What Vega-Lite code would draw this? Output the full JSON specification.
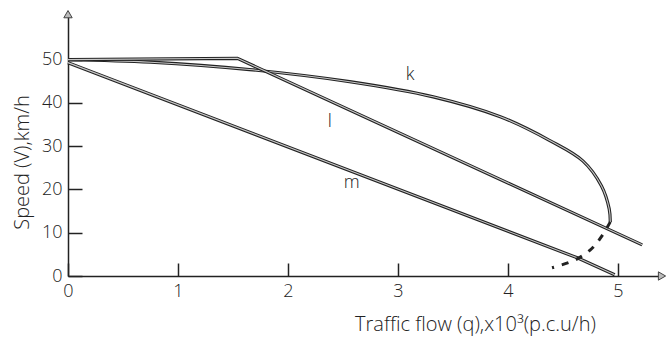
{
  "$schema": "https://vega.github.io/schema/vega-lite/v6.json",
  "width": 594,
  "height": 264,
  "padding": {"left": 68, "top": 12, "right": 5, "bottom": 61},
  "autosize": {"type": "none"},
  "background": "white",
  "config": {
    "view": {"stroke": null},
    "font": "Open Sans",
    "axis": {"grid": false}
  },
  "datasets": {
    "curves": [
      {"series": "k", "i": 0, "q": 0, "v": 50},
      {"series": "k", "i": 1, "q": 0.75, "v": 49.4},
      {"series": "k", "i": 2, "q": 1.65, "v": 47.7},
      {"series": "k", "i": 3, "q": 2.56, "v": 44.9},
      {"series": "k", "i": 4, "q": 3.32, "v": 41.4},
      {"series": "k", "i": 5, "q": 3.93, "v": 36.8},
      {"series": "k", "i": 6, "q": 4.38, "v": 31.3},
      {"series": "k", "i": 7, "q": 4.68, "v": 26.6},
      {"series": "k", "i": 8, "q": 4.85, "v": 20.8},
      {"series": "k", "i": 9, "q": 4.92, "v": 15.5},
      {"series": "k", "i": 10, "q": 4.93, "v": 12.5},
      {"series": "k2", "i": 0, "q": 4.93, "v": 12.5},
      {"series": "k2", "i": 1, "q": 4.86, "v": 9.5},
      {"series": "k2", "i": 2, "q": 4.76, "v": 6.3},
      {"series": "k2", "i": 3, "q": 4.61, "v": 3.7},
      {"series": "k2", "i": 4, "q": 4.4, "v": 1.9},
      {"series": "l", "i": 0, "q": 0, "v": 50},
      {"series": "l", "i": 1, "q": 1.54, "v": 50.3},
      {"series": "l", "i": 2, "q": 5.22, "v": 7.2},
      {"series": "m", "i": 0, "q": 0, "v": 49.3},
      {"series": "m", "i": 1, "q": 4.63, "v": 4.2},
      {"series": "m", "i": 2, "q": 4.97, "v": 0.3}
    ],
    "labels": [
      {"q": 3.11, "v": 46.5, "name": "k"},
      {"q": 2.38, "v": 35.6, "name": "l"},
      {"q": 2.58, "v": 21.5, "name": "m"}
    ],
    "arrows": [
      {"q": 0, "v": 60.5, "shape": "triangle-up"},
      {"q": 5.4, "v": 0, "shape": "triangle-right"}
    ]
  },
  "encoding": {
    "x": {
      "field": "q", "type": "quantitative",
      "scale": {"domain": [0, 5.4], "nice": false, "zero": false},
      "axis": {
        "values": [0, 1, 2, 3, 4, 5],
        "format": "d",
        "title": "Traffic flow (q),x10³(p.c.u/h)",
        "titleFont": "Open Sans", "titleFontWeight": 300, "titleFontSize": 20, "titleColor": "#222",
        "titleAnchor": "middle", "titleX": 407, "titleY": 54, "titleBaseline": "alphabetic",
        "labelFont": "Open Sans", "labelFontWeight": 300, "labelFontSize": 18, "labelColor": "#222",
        "labelPadding": 19, "labelFlush": false,
        "domainColor": "#222", "domainWidth": 1.5,
        "tickColor": "#222", "tickWidth": 1.5, "tickSize": -13
      }
    },
    "y": {
      "field": "v", "type": "quantitative",
      "scale": {"domain": [0, 61], "nice": false},
      "axis": {
        "values": [0, 10, 20, 30, 40, 50],
        "title": "Speed (V),km/h",
        "titleFont": "Open Sans", "titleFontWeight": 300, "titleFontSize": 20, "titleColor": "#222",
        "titleAngle": -90, "titleX": -46, "titleY": 150, "titleAlign": "center", "titleBaseline": "middle",
        "labelFont": "Open Sans", "labelFontWeight": 300, "labelFontSize": 18, "labelColor": "#222",
        "labelPadding": 20, "labelFlush": false,
        "domainColor": "#222", "domainWidth": 1.5,
        "tickColor": "#222", "tickWidth": 1.5, "tickSize": -14
      }
    }
  },
  "layer": [
    {
      "data": {"name": "curves"},
      "transform": [{"filter": "datum.series === 'k'"}],
      "mark": {"type": "line", "interpolate": "catmull-rom", "color": "#222", "strokeWidth": 3.2},
      "encoding": {"order": {"field": "i"}, "detail": {"field": "series"}}
    },
    {
      "data": {"name": "curves"},
      "transform": [{"filter": "datum.series === 'k'"}],
      "mark": {"type": "line", "interpolate": "catmull-rom", "color": "#c8c8c8", "strokeWidth": 1.1},
      "encoding": {"order": {"field": "i"}, "detail": {"field": "series"}}
    },
    {
      "data": {"name": "curves"},
      "transform": [{"filter": "datum.series === 'l' || datum.series === 'm'"}],
      "mark": {"type": "line", "color": "#222", "strokeWidth": 3.2},
      "encoding": {"order": {"field": "i"}, "detail": {"field": "series"}}
    },
    {
      "data": {"name": "curves"},
      "transform": [{"filter": "datum.series === 'l' || datum.series === 'm'"}],
      "mark": {"type": "line", "color": "#c8c8c8", "strokeWidth": 1.1},
      "encoding": {"order": {"field": "i"}, "detail": {"field": "series"}}
    },
    {
      "data": {"name": "curves"},
      "transform": [{"filter": "datum.series === 'k2'"}],
      "mark": {"type": "line", "interpolate": "catmull-rom", "color": "#222", "strokeWidth": 3, "strokeDash": [7, 8]},
      "encoding": {"order": {"field": "i"}, "detail": {"field": "series"}}
    },
    {
      "data": {"name": "labels"},
      "mark": {"type": "text", "font": "Open Sans", "fontWeight": 300, "fontSize": 18, "fill": "#222"},
      "encoding": {"text": {"field": "name"}}
    },
    {
      "data": {"name": "arrows"},
      "mark": {"type": "point", "filled": true, "size": 70, "color": "#bbb", "stroke": "#444", "strokeWidth": 1, "opacity": 1, "clip": false},
      "encoding": {"shape": {"field": "shape", "type": "nominal", "scale": null}}
    }
  ]
}
